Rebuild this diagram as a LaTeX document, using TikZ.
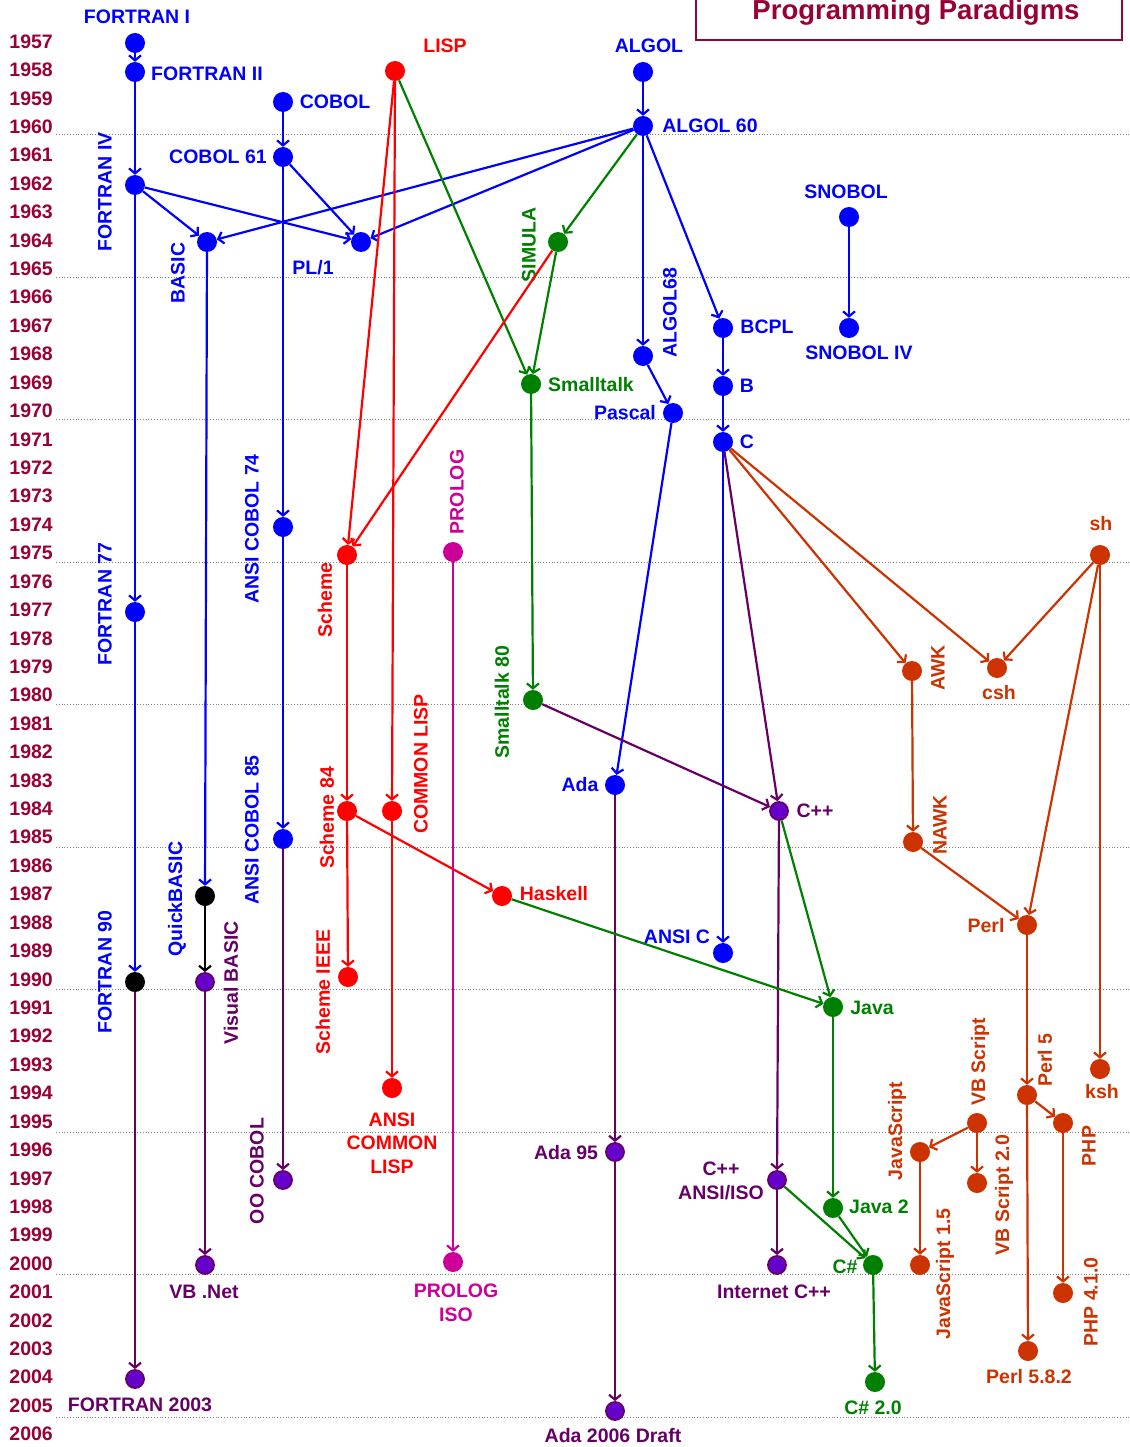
\documentclass[tikz,border=0pt]{standalone}
\usepackage{fontspec}
\setmainfont{Liberation Sans}
\usetikzlibrary{arrows.meta}
\definecolor{yrred}{HTML}{990033}
\definecolor{cblue}{HTML}{0000FF}
\definecolor{cred}{HTML}{FF0000}
\definecolor{cgreen}{HTML}{008000}
\definecolor{cmag}{HTML}{CC0099}
\definecolor{cpur}{HTML}{660066}
\definecolor{cvio}{HTML}{6600CC}
\definecolor{corg}{HTML}{CC3300}
\begin{document}
\begin{tikzpicture}[x=1pt,y=-1pt,
  lab/.style={font=\fontsize{19.5}{23.5}\selectfont\bfseries, inner sep=0pt},
  rlab/.style={lab, rotate=90},
  yr/.style={lab, text=yrred, anchor=east},
  grid/.style={gray, line width=0.8pt, dotted},
  dot/.style={circle, inner sep=0pt, minimum size=20pt},
  bdot/.style={dot, fill=cblue},
  rdot/.style={dot, fill=cred},
  gdot/.style={dot, fill=cgreen},
  mdot/.style={dot, fill=cmag},
  odot/.style={dot, fill=corg},
  kdot/.style={dot, fill=black},
  pdot/.style={dot, fill=cvio, draw=cpur, line width=1.8pt, minimum size=18pt},
  ln/.style={line width=2.2pt, -{Straight Barb[length=5pt,width=12pt]}},
  bl/.style={ln, cblue}, rd/.style={ln, cred}, gr/.style={ln, cgreen},
  pu/.style={ln, cpur}, bk/.style={ln, black}, mg/.style={ln, cmag}, og/.style={ln, corg}
]
\useasboundingbox (0,0) rectangle (1129,1447);
\fill[white] (0,0) rectangle (1129,1447);

% grid lines
\foreach \k in {0,...,9} {
  \draw[grid] (56,{134.5+\k*142.5}) -- (1129,{134.5+\k*142.5});
}
% year labels
\foreach \i in {0,...,49} {
  \pgfmathtruncatemacro{\yy}{1957+\i}
  \node[yr] (yr\i) at (53,{41.5+\i*28.42}) {\yy};
}

% title
\draw[yrred, line width=1.2pt] (696,-5) rectangle (1122,40);
\node[lab, text=yrred, font=\fontsize{27.5}{30}\selectfont\bfseries, anchor=base] (title) at (916,20) {Programming Paradigms};

% ---------- nodes ----------
\node[bdot] (fI) at (135,43) {};
\node[bdot] (fII) at (135,72) {};
\node[bdot] (fIV) at (135,185) {};
\node[bdot] (f77) at (135,612) {};
\node[kdot] (f90) at (135,982) {};
\node[pdot] (f03) at (135,1379) {};
\node[bdot] (cob) at (283,102) {};
\node[bdot] (cob61) at (283,157) {};
\node[bdot] (cob74) at (283,527) {};
\node[bdot] (cob85) at (283,839) {};
\node[pdot] (oocob) at (283,1180) {};
\node[bdot] (basic) at (207,242) {};
\node[kdot] (qb) at (205,896) {};
\node[pdot] (vb) at (205,982) {};
\node[pdot] (vbnet) at (205,1265) {};
\node[bdot] (pl1) at (361,242) {};
\node[rdot] (lisp) at (395,71) {};
\node[rdot] (scheme) at (347,555) {};
\node[rdot] (s84) at (347,811) {};
\node[rdot] (sieee) at (348,977) {};
\node[rdot] (clisp) at (392,811) {};
\node[rdot] (aclisp) at (392,1088) {};
\node[rdot] (haskell) at (502,896) {};
\node[mdot] (prolog) at (453,552) {};
\node[mdot] (prologiso) at (453,1262) {};
\node[bdot] (algol) at (643,72) {};
\node[bdot] (algol60) at (643,126) {};
\node[gdot] (simula) at (558,242) {};
\node[gdot] (st) at (531,384) {};
\node[gdot] (st80) at (533,700) {};
\node[bdot] (algol68) at (643,356) {};
\node[bdot] (pascal) at (673,413) {};
\node[bdot] (ada) at (615,785) {};
\node[pdot] (ada95) at (615,1152) {};
\node[pdot] (ada06) at (615,1411) {};
\node[bdot] (bcpl) at (723,328) {};
\node[bdot] (b) at (723,386) {};
\node[bdot] (c) at (723,442) {};
\node[bdot] (ansic) at (723,953) {};
\node[pdot] (cpp) at (779,811) {};
\node[pdot] (cppiso) at (777,1180) {};
\node[pdot] (icpp) at (777,1265) {};
\node[gdot] (java) at (833,1007) {};
\node[gdot] (java2) at (833,1208) {};
\node[gdot] (cs) at (873,1265) {};
\node[gdot] (cs2) at (875,1382) {};
\node[bdot] (snobol) at (849,217) {};
\node[bdot] (snobol4) at (849,328) {};
\node[odot] (sh) at (1100,555) {};
\node[odot] (awk) at (912,671) {};
\node[odot] (csh) at (997,668) {};
\node[odot] (nawk) at (913,842) {};
\node[odot] (perl) at (1027,925) {};
\node[odot] (ksh) at (1100,1069) {};
\node[odot] (perl5) at (1027,1095) {};
\node[odot] (php) at (1063,1123) {};
\node[odot] (vbs) at (977,1123) {};
\node[odot] (js) at (920,1152) {};
\node[odot] (vbs2) at (977,1183) {};
\node[odot] (js15) at (920,1265) {};
\node[odot] (php41) at (1063,1293) {};
\node[odot] (perl582) at (1028,1351) {};

% ---------- labels ----------
\node[lab, text=cblue] (l-fI) at (137,17) {FORTRAN I};
\node[lab, text=cblue] (l-fII) at (207,74) {FORTRAN II};
\node[rlab, text=cblue] (l-fIV) at (105,192) {FORTRAN IV};
\node[rlab, text=cblue] (l-f77) at (105,604) {FORTRAN 77};
\node[rlab, text=cblue] (l-f90) at (105,972) {FORTRAN 90};
\node[lab, text=cpur] (l-f03) at (140,1405) {FORTRAN 2003};
\node[lab, text=cblue] (l-cob) at (335,102) {COBOL};
\node[lab, text=cblue] (l-cob61) at (218,157) {COBOL 61};
\node[rlab, text=cblue] (l-cob74) at (252,529) {ANSI COBOL 74};
\node[rlab, text=cblue] (l-cob85) at (252,830) {ANSI COBOL 85};
\node[rlab, text=cpur] (l-oocob) at (257,1171) {OO COBOL};
\node[rlab, text=cblue] (l-basic) at (178,273) {BASIC};
\node[rlab, text=cblue] (l-qb) at (177,899) {QuickBASIC};
\node[rlab, text=cpur] (l-vb) at (231,983) {Visual BASIC};
\node[lab, text=cpur] (l-vbnet) at (204,1292) {VB .Net};
\node[lab, text=cblue] (l-pl1) at (313,268) {PL/1};
\node[lab, text=cred] (l-lisp) at (445,46) {LISP};
\node[rlab, text=cred] (l-scheme) at (325,600) {Scheme};
\node[rlab, text=cred] (l-s84) at (327,818) {Scheme 84};
\node[rlab, text=cred] (l-sieee) at (323,992) {Scheme IEEE};
\node[rlab, text=cred] (l-clisp) at (421,764) {COMMON LISP};
\node[lab, text=cred, align=center] (l-aclisp) at (392,1143) {ANSI\\COMMON\\LISP};
\node[lab, text=cred] (l-haskell) at (554,894) {Haskell};
\node[rlab, text=cmag] (l-prolog) at (457,492) {PROLOG};
\node[lab, text=cmag, align=center] (l-prologiso) at (456,1303) {PROLOG\\ISO};
\node[lab, text=cblue] (l-algol) at (649,46) {ALGOL};
\node[lab, text=cblue] (l-algol60) at (710,126) {ALGOL 60};
\node[rlab, text=cgreen] (l-simula) at (529,245) {SIMULA};
\node[lab, text=cgreen] (l-st) at (591,385) {Smalltalk};
\node[rlab, text=cgreen] (l-st80) at (502,702) {Smalltalk 80};
\node[rlab, text=cblue] (l-algol68) at (670,313) {ALGOL68};
\node[lab, text=cblue] (l-pascal) at (625,413) {Pascal};
\node[lab, text=cblue] (l-ada) at (580,785) {Ada};
\node[lab, text=cpur] (l-ada95) at (566,1153) {Ada 95};
\node[lab, text=cpur] (l-ada06) at (613,1436) {Ada 2006 Draft};
\node[lab, text=cblue] (l-bcpl) at (767,327) {BCPL};
\node[lab, text=cblue] (l-b) at (747,386) {B};
\node[lab, text=cblue] (l-c) at (747,442) {C};
\node[lab, text=cblue] (l-ansic) at (677,937) {ANSI C};
\node[lab, text=cpur] (l-cpp) at (815,811) {C++};
\node[lab, text=cpur, align=center] (l-cppiso) at (721,1181) {C++\\ANSI/ISO};
\node[lab, text=cpur] (l-icpp) at (774,1292) {Internet C++};
\node[lab, text=cgreen] (l-java) at (872,1008) {Java};
\node[lab, text=cgreen] (l-java2) at (879,1207) {Java 2};
\node[lab, text=cgreen] (l-cs) at (845,1267) {C\#};
\node[lab, text=cgreen] (l-cs2) at (873,1408) {C\# 2.0};
\node[lab, text=cblue] (l-snobol) at (846,192) {SNOBOL};
\node[lab, text=cblue] (l-snobol4) at (859,353) {SNOBOL IV};
\node[lab, text=corg] (l-sh) at (1101,524) {sh};
\node[rlab, text=corg] (l-awk) at (938,668) {AWK};
\node[lab, text=corg] (l-csh) at (999,693) {csh};
\node[rlab, text=corg] (l-nawk) at (940,825) {NAWK};
\node[lab, text=corg] (l-perl) at (986,926) {Perl};
\node[lab, text=corg] (l-ksh) at (1102,1092) {ksh};
\node[rlab, text=corg] (l-perl5) at (1045,1060) {Perl 5};
\node[rlab, text=corg] (l-php) at (1089,1146) {PHP};
\node[rlab, text=corg] (l-vbs) at (980,1062) {VB Script};
\node[rlab, text=corg] (l-js) at (897,1131) {JavaScript};
\node[rlab, text=corg] (l-vbs2) at (1004,1195) {VB Script 2.0};
\node[rlab, text=corg] (l-js15) at (945,1274) {JavaScript 1.5};
\node[rlab, text=corg] (l-php41) at (1091,1302) {PHP 4.1.0};
\node[lab, text=corg] (l-perl582) at (1029,1377) {Perl 5.8.2};

% ---------- connectors ----------
% blue
\draw[bl] (fI) -- (fII);
\draw[bl] (fII) -- (fIV);
\draw[bl] (fIV) -- (f77);
\draw[bl] (f77) -- (f90);
\draw[bl] (fIV) -- (basic);
\draw[bl] (fIV) -- (pl1);
\draw[bl] (cob) -- (cob61);
\draw[bl] (cob61) -- (cob74);
\draw[bl] (cob74) -- (cob85);
\draw[bl] (cob61) -- (pl1);
\draw[bl] (basic) -- (qb);
\draw[bl] (algol) -- (algol60);
\draw[bl] (algol60) -- (basic);
\draw[bl] (algol60) -- (pl1);
\draw[bl] (algol60) -- (algol68);
\draw[bl] (algol60) -- (bcpl);
\draw[bl] (algol68) -- (pascal);
\draw[bl] (pascal) -- (ada);
\draw[bl] (bcpl) -- (b);
\draw[bl] (b) -- (c);
\draw[bl] (c) -- (ansic);
\draw[bl] (snobol) -- (snobol4);
% purple
\draw[pu] (f90) -- (f03);
\draw[pu] (cob85) -- (oocob);
\draw[pu] (vb) -- (vbnet);
\draw[pu] (ada) -- (ada95);
\draw[pu] (ada95) -- (ada06);
\draw[pu] (c) -- (cpp);
\draw[pu] (st80) -- (cpp);
\draw[pu] (cpp) -- (cppiso);
\draw[pu] (cppiso) -- (icpp);
% black
\draw[bk] (qb) -- (vb);
% green
\draw[gr] (algol60) -- (simula);
\draw[gr] (lisp) -- (st);
\draw[gr] (simula) -- (st);
\draw[gr] (st) -- (st80);
\draw[gr] (haskell) -- (java);
\draw[gr] (cpp) -- (java);
\draw[gr] (java) -- (java2);
\draw[gr] (java2) -- (cs);
\draw[gr] (cppiso) -- (cs);
\draw[gr] (cs) -- (cs2);
% red
\draw[rd] (lisp) -- (scheme);
\draw[rd] (lisp) -- (clisp);
\draw[rd] (simula) -- (scheme);
\draw[rd] (scheme) -- (s84);
\draw[rd] (s84) -- (sieee);
\draw[rd] (s84) -- (haskell);
\draw[rd] (clisp) -- (aclisp);
% magenta
\draw[mg] (prolog) -- (prologiso);
% orange
\draw[og] (c) -- (awk);
\draw[og] (c) -- (csh);
\draw[og] (sh) -- (csh);
\draw[og] (sh) -- (perl);
\draw[og] (sh) -- (ksh);
\draw[og] (awk) -- (nawk);
\draw[og] (nawk) -- (perl);
\draw[og] (perl) -- (perl5);
\draw[og] (perl5) -- (perl582);
\draw[og] (perl5) -- (php);
\draw[og] (php) -- (php41);
\draw[og] (vbs) -- (js);
\draw[og] (vbs) -- (vbs2);
\draw[og] (js) -- (js15);
\end{tikzpicture}
\end{document}
